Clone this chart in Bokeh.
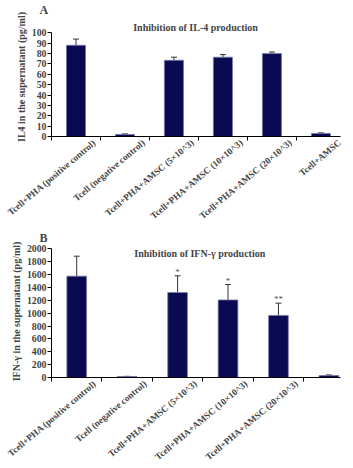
from bokeh.plotting import figure
from bokeh.models import Range1d, FixedTicker, Whisker, TeeHead, Label, ColumnDataSource
from bokeh.layouts import column
from bokeh.embed import file_html
from bokeh.resources import INLINE
from bokeh.core.properties import value

categories = ["Tcell+PHA (positive control)", "Tcell (negative control)",
              "Tcell+PHA+AMSC (5×10^3)", "Tcell+PHA+AMSC (10×10^3)",
              "Tcell+PHA+AMSC (20×10^3)", "Tcell+AMSC"]
il4_mean = [88, 2, 73.5, 76.5, 80, 3]
il4_err = [6, 0.5, 3, 2.5, 1.5, 0.5]
il4_ticks = [0, 10, 20, 30, 40, 50, 60, 70, 80, 90, 100]
ifn_mean = [1575, 15, 1320, 1205, 965, 30]
ifn_err = [310, 3, 260, 240, 190, 10]
ifn_sig = ["", "", "*", "*", "**", ""]
ifn_ticks = [0, 200, 400, 600, 800, 1000, 1200, 1400, 1600, 1800, 2000]

FONT = "Liberation Serif"
BAR = "#0a0a52"


def panel(letter, title, ylabel, means, errs, sig, yticks, height, xend, yend,
          top, bottom, right, title_y, lab_off):
    p = figure(width=353, height=height, output_backend="svg", toolbar_location=None,
               x_range=Range1d(-0.5, xend), y_range=Range1d(0, yend),
               min_border_left=51, min_border_right=right, min_border_top=top,
               min_border_bottom=bottom)
    p.outline_line_color = None
    p.xgrid.visible = False
    p.ygrid.visible = False
    p.background_fill_color = "white"

    p.title.text = letter
    p.title.align = "left"
    p.title.offset = -12
    p.title.standoff = 1
    p.title.text_font = FONT
    p.title.text_font_style = "bold"
    p.title.text_font_size = "12px"

    n = len(means)
    xs = list(range(n))
    src = ColumnDataSource(dict(x=xs, top=means, upper=[m + e for m, e in zip(means, errs)],
                                sig=sig if sig else [""] * n))
    p.vbar(x="x", top="top", width=0.39, source=src, fill_color=BAR,
           line_color="#7a7aa8", line_width=0.8)
    w = Whisker(base="x", lower="top", upper="upper", source=src, dimension="height",
                line_color="#333333", line_width=1,
                upper_head=TeeHead(size=6, line_color="#333333", line_width=1), lower_head=None)
    p.add_layout(w)
    if sig:
        p.text(x="x", y="upper", text="sig", source=src, text_align="center",
               text_baseline="bottom", y_offset=1, text_font=value(FONT),
               text_font_size="9px", text_color="#555555")

    ya = p.yaxis[0]
    ya.ticker = FixedTicker(ticks=yticks)
    ya.bounds = (yticks[0], yticks[-1])
    ya.minor_tick_line_color = None
    ya.major_tick_out = 4
    ya.major_tick_in = 0
    ya.major_label_standoff = 1
    ya.major_label_text_font = FONT
    ya.major_label_text_font_style = "bold"
    ya.major_label_text_font_size = "9.8px"
    ya.axis_line_color = "black"
    ya.major_tick_line_color = "black"
    ya.axis_label = ylabel
    ya.axis_label_standoff = 2
    ya.axis_label_text_font = FONT
    ya.axis_label_text_font_style = "bold"
    ya.axis_label_text_font_size = "10px"

    xa = p.xaxis[0]
    label_pos = [i + lab_off for i in xs]
    xa.ticker = FixedTicker(ticks=label_pos, minor_ticks=[i - 0.5 for i in range(n + 1)])
    xa.major_label_overrides = {lp: c for lp, c in zip(label_pos, categories)}
    xa.major_tick_out = 0
    xa.major_tick_in = 0
    xa.minor_tick_out = 4
    xa.minor_tick_in = 0
    xa.minor_tick_line_color = "black"
    xa.major_label_orientation = 0.7
    xa.major_label_standoff = 1
    xa.major_label_text_font = FONT
    xa.major_label_text_font_style = "bold"
    xa.major_label_text_font_size = "9.2px"
    xa.axis_line_color = "black"

    p.add_layout(Label(x=2.44, y=title_y, text=title, text_align="center",
                       text_baseline="middle", text_font=FONT, text_font_style="bold",
                       text_font_size="10px"))
    return p


pa = panel("A", "Inhibition of IL-4 production", "IL4 in the supernatant (pg/ml)",
           il4_mean, il4_err, None, il4_ticks, 228, 5.4, 114.8, 14, 92, 13,
           105.6, 0.38)
pb = panel("B", "Inhibition of IFN-γ production", "IFN-γ in the supernatant (pg/ml)",
           ifn_mean, ifn_err, ifn_sig, ifn_ticks, 240, 5.23, 2051, 14, 90, 10,
           1930, 0.36)

layout = column(pa, pb, spacing=0)
open("out.html", "w").write(file_html(layout, INLINE))
